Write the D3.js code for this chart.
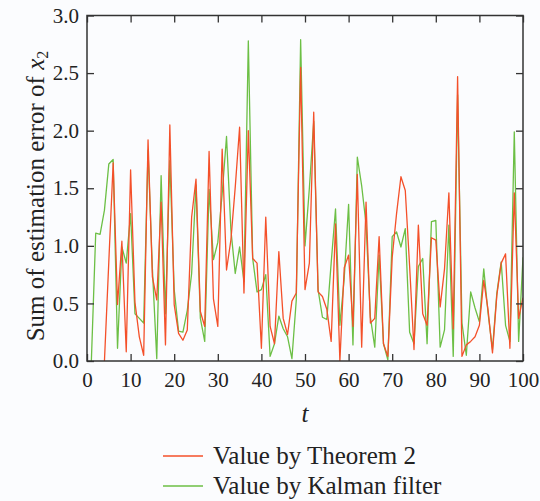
<!DOCTYPE html>
<html><head><meta charset="utf-8">
<script src="https://cdn.jsdelivr.net/npm/d3@7"></script>
<style>html,body{margin:0;padding:0;background:#fbfcfe;}svg{display:block;}</style>
</head><body>
<svg id="c" width="540" height="501"></svg>
<script>
const theoremT = [4,5,6,7,8,9,10,11,12,13,14,15,16,17,18,19,20,21,22,23,24,25,26,27,28,29,30,31,32,33,34,35,36,37,38,39,40,41,42,43,44,45,46,47,48,49,50,51,52,53,54,55,56,57,58,59,60,61,62,63,64,65,66,67,68,69,70,71,72,73,74,75,76,77,78,79,80,81,82,83,84,85,86,87,88,89,90,91,92,93,94,95,96,97,98,99,100];
const theoremV = [0,0.86,1.72,0.49,1.04,0.08,1.66,0.51,0.21,0.05,1.92,0.73,0.53,1.38,0.14,2.05,0.49,0.24,0.18,0.27,1.25,1.58,0.43,0.30,1.82,0.54,0.30,1.84,0.79,1.05,1.51,2.03,0.59,2.00,0.89,0.85,0.11,1.25,0.30,0.15,0.95,0.37,0.23,0.52,0.59,2.55,0.62,0.85,2.16,0.60,0.56,0.45,0.17,1.19,0.00,0.81,0.92,0.30,1.62,0.12,1.38,0.33,0.37,1.08,0.15,0.04,0.90,1.28,1.60,1.48,0.82,0.10,1.18,0.41,0.31,1.07,1.05,0.47,0.80,1.46,0.28,2.47,0.04,0.14,0.17,0.21,0.31,0.70,0.44,0.07,0.57,0.85,0.93,0.11,1.46,0.37,0.55];
const kalmanT = [1,2,3,4,5,6,7,8,9,10,11,12,13,14,15,16,17,18,19,20,21,22,23,24,25,26,27,28,29,30,31,32,33,34,35,36,37,38,39,40,41,42,43,44,45,46,47,48,49,50,51,52,53,54,55,56,57,58,59,60,61,62,63,64,65,66,67,68,69,70,71,72,73,74,75,76,77,78,79,80,81,82,83,84,85,86,87,88,89,90,91,92,93,94,95,96,97,98,99,100];
const kalmanV = [0,1.11,1.10,1.31,1.71,1.75,0.11,0.99,0.85,1.28,0.41,0.37,0.33,1.83,0.80,0.02,1.61,0.41,1.74,0.62,0.26,0.25,0.44,0.76,1.53,0.37,0.17,1.49,0.88,1.03,1.45,1.95,1.14,0.76,0.99,0.69,2.78,0.89,0.60,0.62,0.75,0.04,0.15,0.39,0.28,0.21,0.02,0.53,2.79,1.00,1.50,2.08,0.62,0.38,0.36,0.85,1.32,0.31,0.72,1.36,0.14,1.77,1.52,1.19,0.38,0.12,0.92,0.15,0.01,1.08,1.12,0.99,1.15,0.25,0.15,0.82,0.89,0.15,1.21,1.22,0.12,0.27,1.18,0.04,2.31,0.33,0.05,0.60,0.46,0.34,0.80,0.41,0.10,0.59,0.86,0.31,0.17,1.99,0.17,0.90];
const xTicks = [0,10,20,30,40,50,60,70,80,90,100];
const yTicks = [0,0.5,1.0,1.5,2.0,2.5,3.0];
const seriesNames = ["Value by Theorem 2","Value by Kalman filter"];

const svg = d3.select("#c");
const L=87,R=523,T=15.5,B=361;
const x = d3.scaleLinear().domain([0,100]).range([L,R]);
const y = d3.scaleLinear().domain([0,3]).range([B,T]);
const font = "Liberation Serif";
const red="#f4502a", green="#6cbf45", axc="#333";

svg.append("defs").append("clipPath").attr("id","clip")
  .append("rect").attr("x",L).attr("y",T).attr("width",R-L).attr("height",B-T);

const line = d3.line().x(d=>x(d[0])).y(d=>y(d[1]));
const g = svg.append("g").attr("clip-path","url(#clip)");
g.append("path").datum(kalmanT.map((t,i)=>[t,kalmanV[i]]))
  .attr("d",line).attr("fill","none").attr("stroke",green).attr("stroke-width",1.3).attr("stroke-linejoin","round");
g.append("path").datum(theoremT.map((t,i)=>[t,theoremV[i]]))
  .attr("d",line).attr("fill","none").attr("stroke",red).attr("stroke-width",1.3).attr("stroke-linejoin","round");

const tl = -7;
const xb = svg.append("g").attr("transform",`translate(0,${B})`)
  .call(d3.axisBottom(x).tickValues(xTicks).tickSize(tl).tickPadding(11).tickFormat(d3.format("d")));
const xt = svg.append("g").attr("transform",`translate(0,${T})`)
  .call(d3.axisTop(x).tickValues(xTicks).tickSize(tl).tickFormat(""));
const yl = svg.append("g").attr("transform",`translate(${L},0)`)
  .call(d3.axisLeft(y).tickValues(yTicks).tickSize(tl).tickPadding(8).tickFormat(d3.format(".1f")));
const yr = svg.append("g").attr("transform",`translate(${R},0)`)
  .call(d3.axisRight(y).tickValues(yTicks).tickSize(tl).tickFormat(""));
[xb,xt,yl,yr].forEach(a=>{
  a.attr("font-family",null).attr("font-size",null);
  a.select(".domain").remove();
  a.selectAll(".tick line").attr("stroke",axc).attr("stroke-width",1.3);
  a.selectAll("text").style("font-family",font).style("font-size","21px").attr("fill","#222");
});
svg.append("rect").attr("x",L).attr("y",T).attr("width",R-L).attr("height",B-T)
  .attr("fill","none").attr("stroke",axc).attr("stroke-width",1.5);

// axis titles
const yt = svg.append("text").attr("transform",`translate(44,196) rotate(-90)`)
  .attr("text-anchor","middle").style("font-family",font).style("font-size","25px").attr("fill","#222");
yt.append("tspan").text("Sum of estimation error of ");
yt.append("tspan").style("font-style","italic").text("x");
yt.append("tspan").style("font-size","16px").attr("dy",4).text("2");

svg.append("text").attr("x",x(50)).attr("y",422).attr("text-anchor","middle")
  .style("font-family",font).style("font-style","italic").style("font-size","25px").attr("fill","#222").text("t");

// legend
const lg = svg.append("g");
[[red,456],[green,486]].forEach((c,i)=>{
  lg.append("line").attr("x1",163).attr("x2",203).attr("y1",c[1]).attr("y2",c[1]).attr("stroke",c[0]).attr("stroke-width",1.3);
  lg.append("text").attr("x",213).attr("y",c[1]+8).style("font-family",font).style("font-size","25px").attr("fill","#222").text(seriesNames[i]);
});
</script>
</body></html>
